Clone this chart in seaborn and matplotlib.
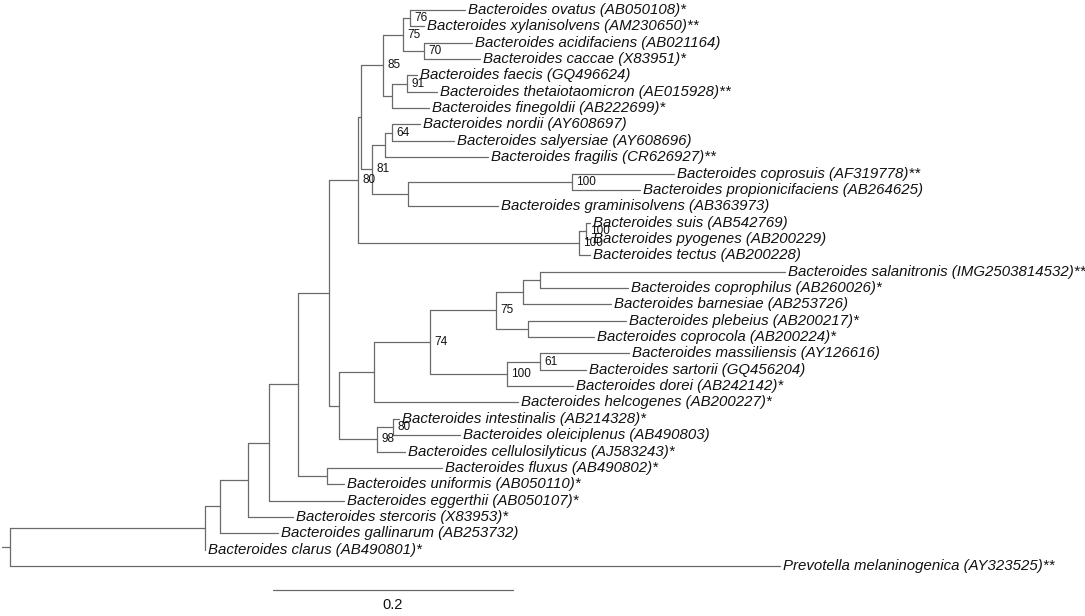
import pandas as pd
import matplotlib.pyplot as plt
import seaborn as sns

# Leaves, top to bottom, and their distance from the root (substitutions/site)
leaf_names = [
    'Bacteroides ovatus (AB050108)*',
    'Bacteroides xylanisolvens (AM230650)**',
    'Bacteroides acidifaciens (AB021164)',
    'Bacteroides caccae (X83951)*',
    'Bacteroides faecis (GQ496624)',
    'Bacteroides thetaiotaomicron (AE015928)**',
    'Bacteroides finegoldii (AB222699)*',
    'Bacteroides nordii (AY608697)',
    'Bacteroides salyersiae (AY608696)',
    'Bacteroides fragilis (CR626927)**',
    'Bacteroides coprosuis (AF319778)**',
    'Bacteroides propionicifaciens (AB264625)',
    'Bacteroides graminisolvens (AB363973)',
    'Bacteroides suis (AB542769)',
    'Bacteroides pyogenes (AB200229)',
    'Bacteroides tectus (AB200228)',
    'Bacteroides salanitronis (IMG2503814532)**',
    'Bacteroides coprophilus (AB260026)*',
    'Bacteroides barnesiae (AB253726)',
    'Bacteroides plebeius (AB200217)*',
    'Bacteroides coprocola (AB200224)*',
    'Bacteroides massiliensis (AY126616)',
    'Bacteroides sartorii (GQ456204)',
    'Bacteroides dorei (AB242142)*',
    'Bacteroides helcogenes (AB200227)*',
    'Bacteroides intestinalis (AB214328)*',
    'Bacteroides oleiciplenus (AB490803)',
    'Bacteroides cellulosilyticus (AJ583243)*',
    'Bacteroides fluxus (AB490802)*',
    'Bacteroides uniformis (AB050110)*',
    'Bacteroides eggerthii (AB050107)*',
    'Bacteroides stercoris (X83953)*',
    'Bacteroides gallinarum (AB253732)',
    'Bacteroides clarus (AB490801)*',
    'Prevotella melaninogenica (AY323525)**',
]
leaf_depth = [0.379, 0.345, 0.385, 0.392, 0.339, 0.356, 0.349, 0.342, 0.370,
              0.398, 0.553, 0.525, 0.407, 0.483, 0.483, 0.483, 0.646, 0.515,
              0.501, 0.513, 0.487, 0.516, 0.480, 0.469, 0.423, 0.324, 0.375,
              0.329, 0.360, 0.278, 0.278, 0.236, 0.223, 0.1625, 0.642]

# Internal nodes: id, depth, children (leaf index or node id), bootstrap
node_ids = ['n76', 'n70', 'n75a', 'n91', 'nFT', 'n85', 'n64', 'nFR', 'n100a',
            'nGR', 'n81', 'nY', 'nS1', 'nS2', 'nX', 'nSC', 'nSB', 'nPC', 'n75b',
            'n61', 'n100b', 'n74', 'nHE', 'n80b', 'n98', 'nL', 'nU', 'nFU',
            'nA6', 'nA5', 'nA4', 'nA3', 'nA2', 'root']
node_depth = [0.3333, 0.345, 0.3275, 0.3308, 0.3183, 0.3108, 0.3183, 0.3125,
              0.4683, 0.3317, 0.3017, 0.2925, 0.480, 0.4742, 0.290, 0.4417,
              0.4275, 0.4317, 0.405, 0.4417, 0.4142, 0.350, 0.3033, 0.3192,
              0.3058, 0.2742, 0.2658, 0.2642, 0.240, 0.2158, 0.1983, 0.175,
              0.1625, 0.0]
node_children = [[0, 1], [2, 3], ['n76', 'n70'], [4, 5], ['n91', 6],
                 ['n75a', 'nFT'], [7, 8], ['n64', 9], [10, 11], ['n100a', 12],
                 ['nFR', 'nGR'], ['n85', 'n81'], [13, 14], ['nS1', 15],
                 ['nY', 'nS2'], [16, 17], ['nSC', 18], [19, 20], ['nSB', 'nPC'],
                 [21, 22], ['n61', 23], ['n75b', 'n100b'], ['n74', 24], [25, 26],
                 ['n80b', 27], ['nHE', 'n98'], ['nX', 'nL'], [28, 29],
                 ['nU', 'nFU'], ['nA6', 30], ['nA5', 31], ['nA4', 32],
                 ['nA3', 33], ['nA2', 34]]
node_support = ['76', '70', '75', '91', '', '85', '64', '', '100', '', '81', '',
                '100', '100', '80', '', '', '', '75', '61', '100', '74', '',
                '80', '98', '', '', '', '', '', '', '', '', '']

scale_start = 0.219
scale_len = 0.2

depth = {i: d for i, d in enumerate(leaf_depth)}
depth.update(dict(zip(node_ids, node_depth)))
children = dict(zip(node_ids, node_children))
ypos = {i: i for i in range(len(leaf_names))}


def get_y(n):
    if n not in ypos:
        ys = [get_y(c) for c in children[n]]
        ypos[n] = (min(ys) + max(ys)) / 2
    return ypos[n]


get_y('root')

# branch segments
rows = []
seg = 0
for n in node_ids:
    ys = [ypos[c] for c in children[n]]
    rows += [(seg, depth[n], min(ys)), (seg, depth[n], max(ys))]
    seg += 1
    for c in children[n]:
        rows += [(seg, depth[n], ypos[c]), (seg, depth[c], ypos[c])]
        seg += 1
rows += [(seg, -0.007, ypos['root']), (seg, 0.0, ypos['root'])]
seg += 1
rows += [(seg, scale_start, 35.47), (seg, scale_start + scale_len, 35.47)]
segs = pd.DataFrame(rows, columns=['seg', 'x', 'y'])

sns.set_theme(style='white')
fams = ['Liberation Sans', 'DejaVu Sans']

fig = plt.figure(figsize=(10.85, 6.16), dpi=100)
ax = fig.add_axes([0, 0, 1, 1])
sns.lineplot(data=segs, x='x', y='y', units='seg', estimator=None, sort=False,
             color='#6a6a6a', linewidth=0.9, ax=ax)

for i, name in enumerate(leaf_names):
    ax.text(leaf_depth[i] + 0.0025, i, name, fontsize=10.8, fontstyle='italic',
            va='center', ha='left', color='#111111', family=fams)

for n, s in zip(node_ids, node_support):
    if s:
        ax.text(depth[n] + 0.0035, ypos[n], s, fontsize=8.5, va='center',
                ha='left', color='#111111', family=fams)

ax.text(scale_start + scale_len / 2, 36.4, '0.2', fontsize=10.5, va='center',
        ha='center', color='#111111', family=fams)

ax.set_xlim(-10 / 1200, 1075 / 1200)
ax.set_ylim(37.06, -0.612)
ax.axis('off')
plt.savefig('out.png', dpi=100)
plt.close()
